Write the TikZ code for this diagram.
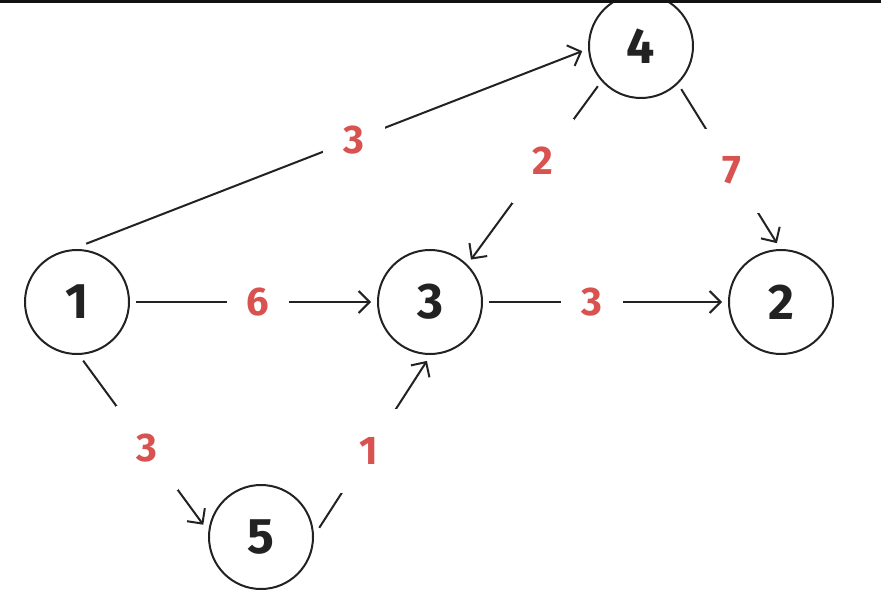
\documentclass[tikz,border=0pt]{standalone}
\usepackage{fontspec}
\setmainfont{Fira Sans}
\usetikzlibrary{arrows.meta}
\definecolor{lab}{RGB}{216,82,80}
\definecolor{ink}{RGB}{34,34,34}
\begin{document}
\begin{tikzpicture}[x=1pt,y=-1pt,
  vert/.style={circle,draw=ink,line width=2pt,minimum size=104pt,inner sep=0pt,outer sep=7pt,
    font=\fontsize{50}{50}\selectfont\bfseries,text=ink},
  wt/.style={rectangle,fill=white,minimum width=62pt,minimum height=84pt,inner sep=0pt,
    font=\fontsize{40}{40}\selectfont\bfseries,text=lab},
  edge/.style={draw=ink,line width=2pt,-{Straight Barb[length=11pt,width=22pt]}}]
\useasboundingbox (0,0) rectangle (881,596);
\clip (0,0) rectangle (881,596);
\fill[white] (0,0) rectangle (881,596);

\node[vert] (n1) at (77,302) {1};
\node[vert] (n3) at (430,302) {3};
\node[vert] (n2) at (781,302) {2};
\node[vert] (n4) at (641,46) {4};
\node[vert] (n5) at (261,537) {5};

\path[edge] (n1.81) -- node[wt,pos=0.54] (w14) {3} (n4.185);
\path[edge] (n4.223) -- node[wt,pos=0.43] (w43) {2} (n3.46);
\path[edge] (n4.313) -- node[wt,pos=0.53] (w42) {7} (n2.94);
\path[edge] (n1.0) -- node[wt,pos=0.52] (w13) {6} (n3.180);
\path[edge] (n3.0) -- node[wt,pos=0.44] (w32) {3} (n2.180);
\path[edge] (n1.276) -- node[wt,pos=0.53] (w15) {3} (n5.168);
\path[edge] (n5.9) -- node[wt,pos=0.46] (w53) {1} (n3.267);

\fill[black!93] (0,0) rectangle (881,3.5);
\end{tikzpicture}
\end{document}
